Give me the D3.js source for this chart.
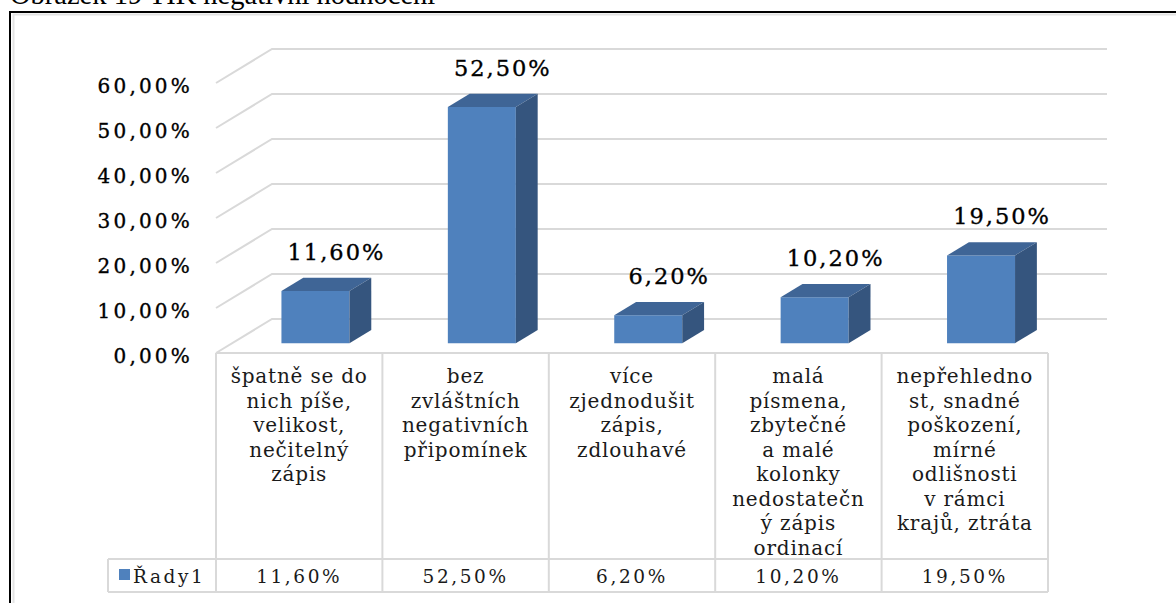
<!DOCTYPE html>
<html>
<head>
  <meta charset="utf-8">
  <script src="https://cdn.jsdelivr.net/npm/d3@7/dist/d3.min.js"></script>
  <style>
    body { margin: 0; background: #fff; }
    svg { display: block; }
    .tick-label { font-family: "DejaVu Serif"; font-size: 20px; letter-spacing: 3.2px; fill: #000; stroke: #000; stroke-width: 0.35px; }
    .value-label { font-family: "DejaVu Serif"; font-size: 22.5px; letter-spacing: 2px; fill: #000; stroke: #000; stroke-width: 0.35px; }
    .cell-text { font-family: "DejaVu Serif"; font-size: 20px; letter-spacing: 0.8px; fill: #1a1a1a; }
    .row-text { font-family: "DejaVu Serif"; font-size: 18.5px; letter-spacing: 2.6px; fill: #1a1a1a; }
  </style>
</head>
<body>
<script>
// category labels, wrapped the same way as in the original table
var categories = [
  ["špatně se do", "nich píše,", "velikost,", "nečitelný", "zápis"],
  ["bez", "zvláštních", "negativních", "připomínek"],
  ["více", "zjednodušit", "zápis,", "zdlouhavé"],
  ["malá", "písmena,", "zbytečné", "a malé", "kolonky", "nedostatečn", "ý zápis", "ordinací"],
  ["nepřehledno", "st, snadné", "poškození,", "mírné", "odlišnosti", "v rámci", "krajů, ztráta"]
];
var values = [11.6, 52.5, 6.2, 10.2, 19.5];
var yTicks = [0, 10, 20, 30, 40, 50, 60];
var seriesName = "Řady1";
var caption = "Obrázek 19 TIK negativní hodnocení";

var fmt = function(v) { return d3.format(".2f")(v).replace(".", ",") + "%"; };

var width = 1176, height = 603;
var svg = d3.select("body").append("svg")
  .attr("width", width)
  .attr("height", height);

// caption, mostly cut off at the top like in the source picture
svg.append("text")
  .attr("x", 10).attr("y", 4)
  .style("font-family", "Liberation Serif")
  .style("font-size", "28.5px")
  .text(caption);

// outer frames
svg.append("rect")
  .attr("x", 10).attr("y", 12).attr("width", 1200).attr("height", 700)
  .attr("fill", "none").attr("stroke", "#000").attr("stroke-width", 2);
svg.append("rect")
  .attr("x", 13.5).attr("y", 14.5).attr("width", 1200).attr("height", 700)
  .attr("fill", "none").attr("stroke", "#e3e3e3").attr("stroke-width", 2);

// 3d geometry
var floorY = 353, depthX = 56, depthY = 34;
var x = d3.scaleBand().domain(d3.range(values.length)).range([216, 1048]);
var y = d3.scaleLinear().domain([0, 60]).range([0, 270]);

function pt(px, v, z) { return [px + z * depthX, floorY - y(v) - z * depthY]; }

var grid = svg.append("g");
yTicks.forEach(function(t) {
  var a = pt(x.range()[0], t, 0), b = pt(x.range()[0], t, 1), c = pt(x.range()[1] + 3, t, 1);
  grid.append("path")
    .attr("d", "M" + a + "L" + b + "L" + c)
    .attr("fill", "none").attr("stroke", "#d9d9d9").attr("stroke-width", 2);
  svg.append("text").attr("class", "tick-label")
    .attr("x", 193).attr("y", a[1] + 10)
    .attr("text-anchor", "end")
    .text(fmt(t));
});

// bars
var z0 = 0.29, z1 = 0.68, barW = 68;
var bars = svg.append("g");
values.forEach(function(v, i) {
  var cx = x(i) + x.bandwidth() / 2;
  var fl = pt(cx - barW / 2, 0, z0), fr = pt(cx + barW / 2, 0, z0);
  var tl = pt(cx - barW / 2, v, z0), tr = pt(cx + barW / 2, v, z0);
  var btl = pt(cx - barW / 2, v, z1), btr = pt(cx + barW / 2, v, z1), bbr = pt(cx + barW / 2, 0, z1);
  bars.append("path").attr("d", "M" + fl + "L" + fr + "L" + tr + "L" + tl + "Z").attr("fill", "#4f81bd");
  bars.append("path").attr("d", "M" + tl + "L" + tr + "L" + btr + "L" + btl + "Z").attr("fill", "#3f6596");
  bars.append("path").attr("d", "M" + fr + "L" + bbr + "L" + btr + "L" + tr + "Z").attr("fill", "#35557e");
  svg.append("text").attr("class", "value-label")
    .attr("x", (fl[0] + fr[0]) / 2 + 21).attr("y", tl[1] - 31)
    .attr("text-anchor", "middle")
    .text(fmt(v));
});

// data table
var tTop = floorY, tMid = 559, tBot = 592, legendLeft = 108;
var tbl = svg.append("g").attr("stroke", "#d9d9d9").attr("stroke-width", 2).attr("fill", "none");
tbl.append("line").attr("x1", x.range()[0]).attr("x2", x.range()[1]).attr("y1", tTop).attr("y2", tTop);
tbl.append("line").attr("x1", legendLeft).attr("x2", x.range()[1]).attr("y1", tMid).attr("y2", tMid);
tbl.append("line").attr("x1", legendLeft).attr("x2", x.range()[1]).attr("y1", tBot).attr("y2", tBot);
tbl.append("line").attr("x1", legendLeft).attr("x2", legendLeft).attr("y1", tMid).attr("y2", tBot);
d3.range(values.length + 1).forEach(function(i) {
  var xx = i < values.length ? x(i) : x.range()[1];
  tbl.append("line").attr("x1", xx).attr("x2", xx).attr("y1", tTop).attr("y2", tBot);
});

categories.forEach(function(lines, i) {
  var cx = x(i) + x.bandwidth() / 2;
  var t = svg.append("text").attr("class", "cell-text").attr("text-anchor", "middle");
  lines.forEach(function(line, k) {
    t.append("tspan").attr("x", cx).attr("y", 383 + k * 24.5).text(line);
  });
  svg.append("text").attr("class", "row-text").attr("text-anchor", "middle")
    .attr("x", cx).attr("y", 583)
    .text(fmt(values[i]));
});

// legend key
svg.append("rect").attr("x", 119).attr("y", 569).attr("width", 11).attr("height", 11).attr("fill", "#4f81bd");
svg.append("text").attr("class", "row-text").attr("x", 133).attr("y", 583).text(seriesName);
</script>
</body>
</html>
